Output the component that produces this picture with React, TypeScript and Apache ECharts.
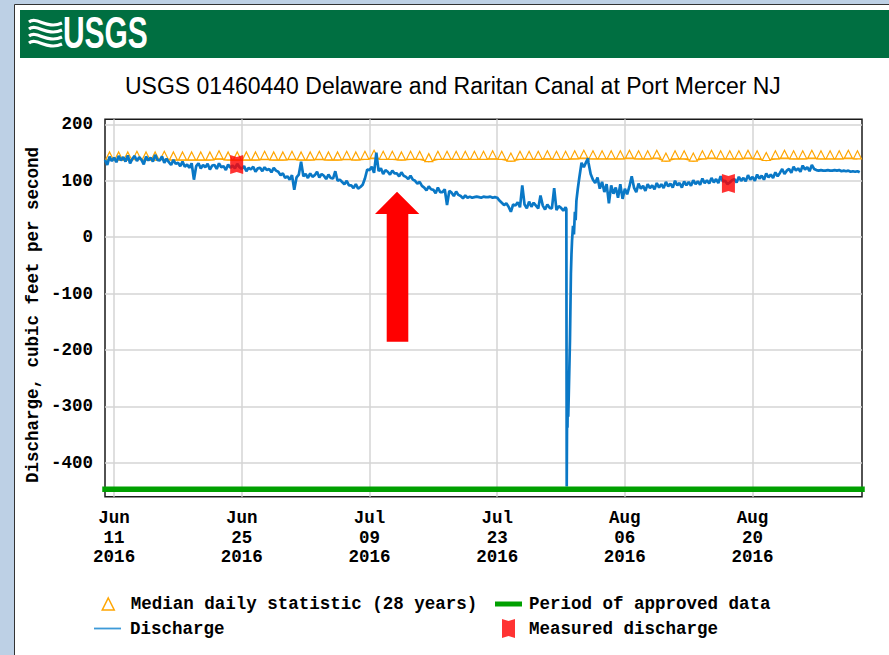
import React, { useEffect, useRef } from 'react';
import * as echarts from 'echarts';

const monoFont = '"Liberation Mono", "DejaVu Sans Mono", monospace';
const sansFont = '"Liberation Sans", Arial, sans-serif';

const titleText = 'USGS 01460440 Delaware and Raritan Canal at Port Mercer NJ';
const yAxisTitle = 'Discharge, cubic feet per second';

const medianName = 'Median daily statistic (28 years)';
const dischargeName = 'Discharge';
const approvedName = 'Period of approved data';
const measuredName = 'Measured discharge';

const axisStart = '2016-06-10T00:00:00Z';
const axisEnd = '2016-09-01T00:00:00Z';
const xTickDates = ['2016-06-11T00:00:00Z', '2016-06-25T00:00:00Z', '2016-07-09T00:00:00Z', '2016-07-23T00:00:00Z', '2016-08-06T00:00:00Z', '2016-08-20T00:00:00Z'];
const xTickLabels = ['Jun\n11\n2016', 'Jun\n25\n2016', 'Jul\n09\n2016', 'Jul\n23\n2016', 'Aug\n06\n2016', 'Aug\n20\n2016'];
const yTickValues = [-400, -300, -200, -100, 0, 100, 200];
const yMin = -460;
const yMax = 209;

// daily median statistic, one value per day (noon), Jun 10 .. Aug 31
const medianStart = '2016-06-10T12:00:00Z';
const medianDaily = [
  137, 137, 137, 138, 137, 137, 138, 137, 137, 137,
  137, 137, 139, 137, 137, 137, 137, 138, 137, 137,
  138, 137, 137, 138, 137, 137, 138, 137, 138, 140,
  138, 138, 137, 138, 138, 134, 138, 138, 138, 138,
  138, 138, 139, 138, 135, 138, 138, 138, 139, 138,
  138, 139, 140, 139, 139, 139, 139, 140, 139, 139,
  140, 135, 139, 139, 135, 139, 140, 139, 139, 139,
  140, 139, 136, 139, 140, 139, 139, 140, 139, 139,
  139, 140, 139,
];

// discharge, 6-hourly, Jun 10 00:00 .. Jul 30 12:00
const dischargeAStart = '2016-06-10T00:00:00Z';
const dischargeA = [
  137, 128, 143, 135, 141, 133, 144, 136, 142, 134, 145, 131,
  139, 144, 135, 142, 137, 129, 143, 136, 141, 134, 146, 137,
  136, 143, 132, 139, 133, 128, 137, 130, 132, 126, 134, 125,
  129, 123, 131, 102, 126, 131, 122, 128, 124, 130, 120, 127,
  128, 121, 131, 124, 126, 119, 129, 123, 127, 122, 130, 124,
  121, 126, 117, 123, 120, 125, 116, 122, 123, 117, 124, 119,
  121, 115, 123, 118, 116, 110, 113, 105, 108, 102, 110, 84,
  106, 111, 134, 108, 112, 105, 113, 107, 110, 116, 106, 112,
  109, 103, 111, 105, 104, 117, 100, 102, 98, 94, 100, 92,
  92, 87, 94, 86, 89, 93, 104, 120, 119, 125, 114, 150,
  117, 122, 112, 119, 116, 111, 118, 113, 113, 108, 115, 109,
  107, 103, 109, 102, 100, 95, 98, 91, 88, 83, 90, 85,
  84, 78, 88, 80, 80, 85, 57, 82, 79, 73, 81, 75,
  73, 69, 74, 70, 72, 70, 71, 72, 71, 70, 72, 71,
  71, 72, 70, 71, 70, 65, 61, 57, 60, 54, 45, 58,
  56, 62, 53, 92, 58, 51, 63, 54, 61, 56, 51, 74,
  56, 49, 58, 52, 51, 87, 48, 55, 52, 47, 53,
];

// canal draining event, Jul 30 .. Aug 1
const dischargeStorm: [string, number][] = [
  ['2016-07-30T14:00:00Z', 50],
  ['2016-07-30T15:00:00Z', -442],
  ['2016-07-30T16:00:00Z', -300],
  ['2016-07-30T17:00:00Z', -338],
  ['2016-07-30T18:00:00Z', -262],
  ['2016-07-30T19:00:00Z', -318],
  ['2016-07-30T20:30:00Z', -275],
  ['2016-07-30T23:30:00Z', -184],
  ['2016-07-31T02:00:00Z', -65],
  ['2016-07-31T03:30:00Z', -30],
  ['2016-07-31T05:00:00Z', -6],
  ['2016-07-31T07:30:00Z', 20],
  ['2016-07-31T10:00:00Z', 5],
  ['2016-07-31T12:30:00Z', 45],
  ['2016-07-31T14:30:00Z', 30],
  ['2016-07-31T16:30:00Z', 65],
  ['2016-07-31T20:00:00Z', 85],
  ['2016-08-01T00:00:00Z', 105],
  ['2016-08-01T06:00:00Z', 132],
  ['2016-08-01T12:00:00Z', 124],
  ['2016-08-01T18:00:00Z', 133],
  ['2016-08-01T23:00:00Z', 140],
];

// discharge, 6-hourly, Aug 2 00:00 .. Aug 31 18:00
const dischargeBStart = '2016-08-02T00:00:00Z';
const dischargeB = [
  133, 112, 102, 96, 106, 86, 98, 80, 94, 60, 92, 77,
  88, 70, 94, 68, 86, 76, 90, 108, 88, 80, 95, 86,
  91, 82, 94, 87, 92, 85, 96, 88, 94, 87, 98, 90,
  95, 88, 100, 92, 96, 88, 99, 92, 98, 91, 101, 94,
  99, 93, 104, 96, 101, 95, 105, 97, 103, 96, 108, 99,
  100, 94, 97, 101, 103, 97, 107, 100, 105, 99, 110, 102,
  107, 100, 111, 104, 109, 102, 113, 106, 111, 105, 115, 108,
  114, 121, 112, 118, 121, 114, 125, 118, 122, 116, 127, 120,
  124, 117, 128, 121, 119, 118, 119, 118, 118, 119, 118, 118,
  119, 118, 119, 117, 118, 117, 118, 116, 117, 116, 117, 115,
];

const measuredTimes = ['2016-06-24T10:30:00Z', '2016-08-17T08:30:00Z'];
const measuredValues = [129, 95];

const approvedPeriod = ['2016-06-10T00:00:00Z', '2016-09-01T00:00:00Z'];
const approvedLevel = -447;

const ORANGE = '#ffa500';
const BLUE = '#0a78c6';
const GREEN = '#00a000';
const RED = '#ff0000';
const markerPath = 'path://M0,0 L6.5,2 L13,0 L13,19 L6.5,17 L0,19 Z';
const triangleIcon = 'path://M6,0 L12,12 L0,12 Z';

const HOUR = 3600 * 1000;
const t = (s: string) => Date.parse(s);

function buildOption() {
  const xTickValues = xTickDates.map(t);
  const medianData = medianDaily.map((v, i) => [t(medianStart) + i * 24 * HOUR, v]);
  const dischargeData = [
    ...dischargeA.map((v, i) => [t(dischargeAStart) + i * 6 * HOUR, v]),
    ...dischargeStorm.map(([s, v]) => [t(s), v]),
    ...dischargeB.map((v, i) => [t(dischargeBStart) + i * 6 * HOUR, v]),
  ];
  const measuredData = measuredTimes.map((s, i) => [t(s), measuredValues[i]]);
  const approvedData = approvedPeriod.map((s) => [t(s), approvedLevel]);

  const labelFont = { fontFamily: monoFont, fontWeight: 'bold' as const, fontSize: 17.5, color: '#000' };
  const legendBase = {
    orient: 'horizontal',
    itemWidth: 27,
    selectedMode: false,
    symbolKeepAspect: true,
    padding: 0,
  };

  return {
    animation: false,
    grid: {
      left: 105,
      top: 119.3,
      width: 757,
      height: 377.4,
      show: true,
      borderColor: '#1a1a1a',
      borderWidth: 1.5,
      backgroundColor: 'transparent',
    },
    xAxis: {
      type: 'value',
      min: t(axisStart),
      max: t(axisEnd),
      axisLine: { show: false },
      axisTick: { show: false, customValues: xTickValues },
      axisLabel: {
        ...labelFont,
        customValues: xTickValues,
        lineHeight: 19.5,
        margin: 12,
        formatter: (v: number) => {
          const i = xTickValues.indexOf(v);
          return i >= 0 ? xTickLabels[i] : '';
        },
      },
      splitLine: { show: true, lineStyle: { color: '#d4d4d4', width: 1.5 } },
    },
    yAxis: {
      type: 'value',
      min: yMin,
      max: yMax,
      axisLine: { show: false },
      axisTick: { show: false, customValues: yTickValues },
      axisLabel: { ...labelFont, customValues: yTickValues, margin: 12 },
      splitLine: { show: true, lineStyle: { color: '#d4d4d4', width: 1.5 } },
    },
    legend: [
      {
        ...legendBase,
        left: 101.5,
        top: 595,
        itemHeight: 12,
        textStyle: { ...labelFont, padding: [0, 0, 0, 4] },
        data: [{ name: medianName, icon: triangleIcon, itemStyle: { color: '#fff', borderColor: ORANGE, borderWidth: 1.5 } }],
      },
      {
        ...legendBase,
        left: 94,
        top: 619.5,
        itemHeight: 12,
        textStyle: { ...labelFont, padding: [0, 0, 0, 4] },
        data: [{ name: dischargeName, icon: 'path://M0,0H27V1.8H0Z', itemStyle: { color: '#3d9ad8', borderWidth: 0 } }],
      },
      {
        ...legendBase,
        left: 495,
        top: 595,
        itemHeight: 12,
        textStyle: { ...labelFont, padding: [0, 0, 0, 2] },
        data: [{ name: approvedName, icon: 'path://M0,0H27V5H0Z', itemStyle: { color: GREEN, borderWidth: 0 } }],
      },
      {
        ...legendBase,
        left: 502,
        top: 619,
        itemHeight: 19,
        textStyle: { ...labelFont, padding: [0, 0, 0, 2] },
        data: [{ name: measuredName, icon: markerPath, itemStyle: { color: RED, borderWidth: 0 } }],
      },
    ],
    series: [
      {
        name: medianName,
        type: 'line',
        data: medianData,
        symbol: 'triangle',
        symbolSize: [8, 8],
        symbolOffset: [0, -4],
        showSymbol: true,
        lineStyle: { color: ORANGE, width: 1.5 },
        itemStyle: { color: '#fff', borderColor: ORANGE, borderWidth: 1.2 },
        z: 2,
      },
      {
        name: dischargeName,
        type: 'line',
        data: dischargeData,
        symbol: 'none',
        lineStyle: { color: BLUE, width: 2.7 },
        itemStyle: { color: BLUE },
        z: 3,
      },
      {
        name: approvedName,
        type: 'line',
        data: approvedData,
        symbol: 'none',
        clip: false,
        lineStyle: { color: GREEN, width: 5.5, cap: 'square' },
        itemStyle: { color: GREEN },
        z: 4,
      },
      {
        name: measuredName,
        type: 'scatter',
        data: measuredData,
        symbol: markerPath,
        symbolSize: [13, 19],
        itemStyle: { color: RED },
        z: 5,
      },
    ],
    graphic: [
      {
        type: 'rect',
        z: -10,
        silent: true,
        shape: { x: 14.5, y: 4.5, width: 900, height: 700 },
        style: { fill: '#fff', stroke: '#333', lineWidth: 1 },
      },
      {
        type: 'rect',
        z: -9,
        silent: true,
        shape: { x: 20, y: 10, width: 869, height: 48 },
        style: { fill: '#006f41' },
      },
      {
        type: 'group',
        z: -8,
        silent: true,
        children: [0, 1, 2, 3].map((i) => ({
          type: 'bezierCurve',
          shape: {
            x1: 29, y1: 22 + i * 7,
            cpx1: 37, cpy1: 16 + i * 7,
            cpx2: 47, cpy2: 30 + i * 7,
            x2: 62, y2: 23 + i * 7,
          },
          style: { stroke: '#fff', lineWidth: 3.2, fill: null },
        })),
      },
      {
        type: 'text',
        z: -8,
        silent: true,
        x: 63,
        y: 33,
        scaleX: 0.67,
        style: {
          text: 'USGS',
          fill: '#fff',
          fontFamily: sansFont,
          fontWeight: 'bold',
          fontSize: 44.7,
          align: 'left',
          verticalAlign: 'middle',
        },
      },
      {
        type: 'text',
        silent: true,
        x: 125,
        y: 85.5,
        style: {
          text: titleText,
          fill: '#000',
          fontFamily: sansFont,
          fontSize: 23,
          align: 'left',
          verticalAlign: 'middle',
        },
      },
      {
        type: 'text',
        silent: true,
        x: 33,
        y: 315,
        rotation: Math.PI / 2,
        style: {
          text: yAxisTitle,
          fill: '#000',
          fontFamily: monoFont,
          fontWeight: 'bold',
          fontSize: 17.5,
          align: 'center',
          verticalAlign: 'middle',
        },
      },
      {
        type: 'polygon',
        z: 10,
        silent: true,
        shape: {
          points: [
            [397, 191.7], [419.3, 214], [408.3, 214], [408.3, 341.7],
            [386.7, 341.7], [386.7, 214], [375, 214],
          ],
        },
        style: { fill: RED },
      },
    ],
  };
}

export default function App() {
  const ref = useRef<HTMLDivElement>(null);
  useEffect(() => {
    if (!ref.current) return;
    const chart = echarts.init(ref.current, null, { renderer: 'svg' });
    chart.setOption(buildOption() as any);
    return () => chart.dispose();
  }, []);
  return (
    <div
      ref={ref}
      style={{ position: 'absolute', left: 0, top: 0, width: 889, height: 655, background: '#bdd0e5' }}
    />
  );
}
